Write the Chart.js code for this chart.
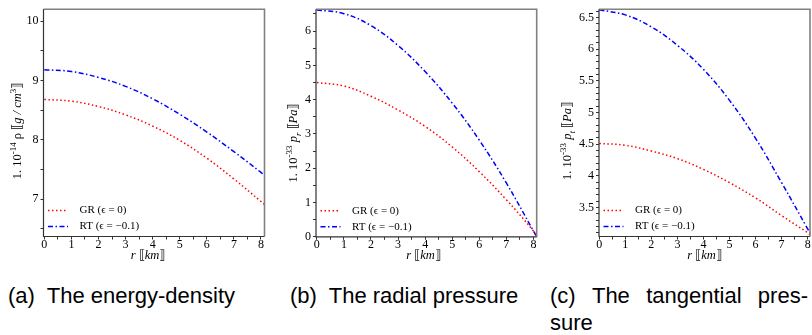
<!DOCTYPE html>
<html>
<head>
<meta charset="utf-8">
<script src="https://cdn.jsdelivr.net/npm/chart.js@4.4.1/dist/chart.umd.min.js"></script>
<style>
  html, body { margin: 0; padding: 0; background: #fff; }
  body { width: 812px; height: 335px; position: relative; overflow: hidden; }
  .panel { position: absolute; top: 0; height: 265px; }
  .cap { position: absolute; font-family: "Liberation Sans", Arial, sans-serif; font-size: 22px; color: #000; white-space: pre; line-height: 1; }
  .capc { position: absolute; left: 550px; width: 258px; display: flex; justify-content: space-between; font-family: "Liberation Sans", Arial, sans-serif; font-size: 22px; line-height: 1; }
</style>
</head>
<body>
<div class="panel" style="left:0;width:270px"><canvas id="chartA"></canvas></div>
<div class="panel" style="left:270px;width:270px"><canvas id="chartB"></canvas></div>
<div class="panel" style="left:540px;width:272px"><canvas id="chartC"></canvas></div>

<div class="cap" style="left:8px;top:285px">(a)  The energy-density</div>
<div class="cap" style="left:290px;top:285px">(b)  The radial pressure</div>
<div class="capc" style="top:285px"><span>(c)</span><span>The</span><span>tangential</span><span>pres-</span></div>
<div class="cap" style="left:550px;top:312px">sure</div>

<script>
// ---- data ----
const radiusA = [0, 1, 2, 3, 4, 5, 6, 7, 8, 8.13];
const rhoGR = [8.68, 8.65, 8.56, 8.42, 8.23, 7.99, 7.69, 7.34, 6.96, 6.91];
const rhoRT = [9.18, 9.15, 9.05, 8.90, 8.69, 8.43, 8.13, 7.80, 7.45, 7.40];

const radiusB = [0, 1, 2, 3, 4, 5, 6, 7, 8, 8.12];
const prGR = [4.50, 4.40, 4.10, 3.70, 3.22, 2.62, 1.90, 1.08, 0.17, 0];
const prRT = [6.62, 6.51, 6.16, 5.58, 4.82, 3.90, 2.82, 1.57, 0.17, 0];

const radiusC = [0, 1, 2, 3, 4, 5, 6, 7, 8, 8.09];
const ptGR = [4.51, 4.48, 4.39, 4.27, 4.10, 3.89, 3.65, 3.37, 3.10, 3.07];
const ptRT = [6.62, 6.54, 6.35, 6.06, 5.68, 5.19, 4.59, 3.89, 3.16, 3.09];

const legendLabels = ["GR (\u03F5 = 0)", "RT (\u03F5 = \u22120.1)"];

const SERIF = '"Liberation Serif", "DejaVu Serif", serif';
const GR_DASH = [1.5, 2.5];
const RT_DASH = [5, 2.5, 1.5, 2.5];

// rich text pieces for the axis titles
const titleA = [{t: "1. 10"}, {t: "-14", sup: true}, {t: " \u03C1 \u27E6"}, {t: "g / cm", it: true}, {t: "3", sup: true}, {t: "\u27E7"}];
const titleB = [{t: "1. 10"}, {t: "-33", sup: true}, {t: " "}, {t: "p", it: true}, {t: "r", it: true, sub: true}, {t: " \u27E6"}, {t: "Pa", it: true}, {t: "\u27E7"}];
const titleC = [{t: "1. 10"}, {t: "-33", sup: true}, {t: " "}, {t: "p", it: true}, {t: "t", it: true, sub: true}, {t: " \u27E6"}, {t: "Pa", it: true}, {t: "\u27E7"}];
const titleX = [{t: "r", it: true}, {t: " \u27E6"}, {t: "km", it: true}, {t: "\u27E7"}];

function segFont(s, size) {
  const sz = (s.sup || s.sub) ? size * 0.72 : size;
  return (s.it ? "italic " : "") + sz + "px " + SERIF;
}

function drawRich(ctx, segs, cx, cy, size, rotate) {
  ctx.save();
  ctx.translate(cx, cy);
  if (rotate) ctx.rotate(-Math.PI / 2);
  let w = 0;
  segs.forEach(s => { ctx.font = segFont(s, size); w += ctx.measureText(s.t).width; });
  let x = -w / 2;
  ctx.textBaseline = "alphabetic";
  ctx.fillStyle = "#000";
  segs.forEach(s => {
    ctx.font = segFont(s, size);
    let dy = size * 0.35;
    if (s.sup) dy -= size * 0.4;
    if (s.sub) dy += size * 0.25;
    ctx.fillText(s.t, x, dy);
    x += ctx.measureText(s.t).width;
  });
  ctx.restore();
}

const decorPlugin = {
  id: "decor",
  afterDraw(chart, args, opts) {
    const ctx = chart.ctx;
    const a = chart.chartArea;
    ctx.save();
    // frame: grey top/right, dark left/bottom
    ctx.strokeStyle = "#808080";
    ctx.lineWidth = 1.6;
    ctx.beginPath();
    ctx.moveTo(a.left, a.top); ctx.lineTo(a.right, a.top); ctx.lineTo(a.right, a.bottom);
    ctx.stroke();
    ctx.strokeStyle = "#333";
    ctx.lineWidth = 1.2;
    ctx.beginPath();
    ctx.moveTo(a.left, a.top); ctx.lineTo(a.left, a.bottom); ctx.lineTo(a.right, a.bottom);
    ctx.stroke();

    // legend
    const rows = [
      {label: legendLabels[0], color: "#ff0000", dash: GR_DASH, y: a.bottom - 26},
      {label: legendLabels[1], color: "#0000ff", dash: RT_DASH, y: a.bottom - 10}
    ];
    ctx.font = "11px " + SERIF;
    ctx.textBaseline = "middle";
    rows.forEach(r => {
      ctx.strokeStyle = r.color;
      ctx.lineWidth = 1.5;
      ctx.setLineDash(r.dash);
      ctx.beginPath();
      ctx.moveTo(a.left + 4.5, r.y); ctx.lineTo(a.left + 24.5, r.y);
      ctx.stroke();
      ctx.setLineDash([]);
      ctx.fillStyle = "#000";
      ctx.fillText(r.label, a.left + 36, r.y);
    });
    ctx.restore();

    drawRich(ctx, opts.yTitle, opts.yTitleX, opts.yTitleY, 12.5, true);
    drawRich(ctx, titleX, opts.xTitleX, 254.5, 12.5, false);
  }
};

function isMultiple(v, step) {
  return Math.abs(v / step - Math.round(v / step)) < 1e-6;
}

function makeChart(id, p) {
  const H = 265;
  return new Chart(document.getElementById(id), {
    type: "line",
    data: {
      datasets: [
        {
          data: p.r.map((x, i) => ({x: x, y: p.gr[i]})),
          borderColor: "#ff0000", borderWidth: 1.5, borderDash: GR_DASH,
          pointRadius: 0, tension: 0.4, fill: false
        },
        {
          data: p.r.map((x, i) => ({x: x, y: p.rt[i]})),
          borderColor: "#0000ff", borderWidth: 1.5, borderDash: RT_DASH,
          pointRadius: 0, tension: 0.4, fill: false
        }
      ]
    },
    options: {
      responsive: true,
      maintainAspectRatio: false,
      animation: false,
      clip: false,
      layout: { padding: { left: 0, top: p.T, right: p.W - p.R, bottom: 0 } },
      plugins: {
        legend: { display: false },
        tooltip: { enabled: false },
        decor: { yTitle: p.yTitle, yTitleX: p.yTitleX, yTitleY: p.yTitleY, xTitleX: p.xTitleX }
      },
      scales: {
        x: {
          type: "linear", min: p.xMin, max: p.xMax,
          afterFit: s => { s.height = H - p.B; },
          border: { display: false },
          grid: { drawOnChartArea: false, drawTicks: true, tickLength: 3, color: "#333" },
          ticks: {
            stepSize: 0.5, includeBounds: false, autoSkip: false, maxRotation: 0,
            padding: -2, color: "#000", font: { family: SERIF, size: 12 },
            callback: v => isMultiple(v, 1) ? String(Math.round(v)) : ""
          }
        },
        y: {
          min: p.yMin, max: p.yMax,
          afterFit: s => { s.width = p.L; },
          border: { display: false },
          grid: { drawOnChartArea: false, drawTicks: true, tickLength: 3, color: "#333" },
          ticks: {
            stepSize: p.yStep, includeBounds: false, autoSkip: false,
            padding: 2, color: "#000", font: { family: SERIF, size: 12 },
            callback: v => isMultiple(v, p.yLabelStep) ? String(Math.round(v * 10) / 10) : ""
          }
        }
      }
    },
    plugins: [decorPlugin]
  });
}

makeChart("chartA", {
  W: 270, L: 43.5, T: 9, R: 264.5, B: 236.5,
  xMin: -0.03, xMax: 8.13, yMin: 6.37, yMax: 10.2, yStep: 0.5, yLabelStep: 1,
  r: radiusA, gr: rhoGR, rt: rhoRT,
  yTitle: titleA, yTitleX: 17, yTitleY: 131, xTitleX: 148
});
makeChart("chartB", {
  W: 270, L: 46, T: 9, R: 266.7, B: 236.8,
  xMin: -0.03, xMax: 8.12, yMin: 0, yMax: 6.64, yStep: 0.5, yLabelStep: 1,
  r: radiusB, gr: prGR, rt: prRT,
  yTitle: titleB, yTitleX: 23, yTitleY: 143, xTitleX: 153.5
});
makeChart("chartC", {
  W: 272, L: 59, T: 9, R: 270, B: 236.5,
  xMin: -0.01, xMax: 8.09, yMin: 3.04, yMax: 6.63, yStep: 0.1, yLabelStep: 0.5,
  r: radiusC, gr: ptGR, rt: ptRT,
  yTitle: titleC, yTitleX: 27, yTitleY: 141, xTitleX: 164.5
});
</script>
</body>
</html>
